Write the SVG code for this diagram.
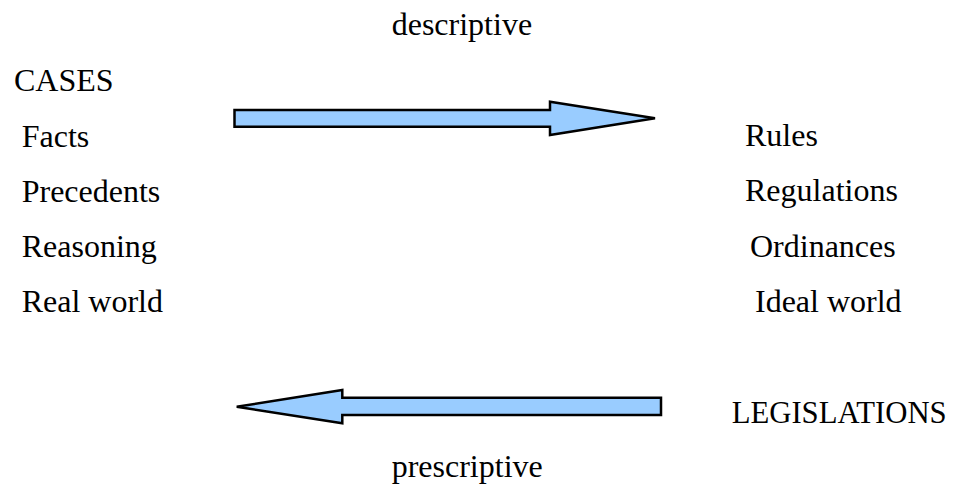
<svg xmlns="http://www.w3.org/2000/svg" width="967" height="486" viewBox="0 0 967 486">
<style>
text{font-family:"Liberation Serif","Times New Roman",serif;font-size:32px;fill:#000}
.arrow{fill:#99ccff;stroke:#000;stroke-width:2.5;stroke-linejoin:miter}
</style>
<rect width="967" height="486" fill="#fff"/>
<g id="connectors">
<path class="arrow" d="M234.5,110 L550,110 L550,101.7 L655,118.3 L550,135 L550,126.7 L234.5,126.7 Z"/>
<path class="arrow" d="M661,397.7 L342.3,397.7 L342.3,390 L236.7,406.7 L342.3,423.3 L342.3,415 L661,415 Z"/>
</g>
<g id="label-descriptive"><text x="391.7" y="35">descriptive</text></g>
<g id="label-prescriptive"><text x="391.7" y="476.7">prescriptive</text></g>
<g id="cases">
<text x="14" y="90.7">CASES</text>
<text x="21.7" y="147">Facts</text>
<text x="21.7" y="201.7">Precedents</text>
<text x="21.7" y="256.7">Reasoning</text>
<text x="21.7" y="311.7">Real world</text>
</g>
<g id="legislations">
<text x="745" y="146">Rules</text>
<text x="745" y="200.7">Regulations</text>
<text x="750" y="256.7">Ordinances</text>
<text x="755" y="311.7">Ideal world</text>
<text x="731.7" y="422.7" textLength="215" lengthAdjust="spacingAndGlyphs">LEGISLATIONS</text>
</g>
</svg>
